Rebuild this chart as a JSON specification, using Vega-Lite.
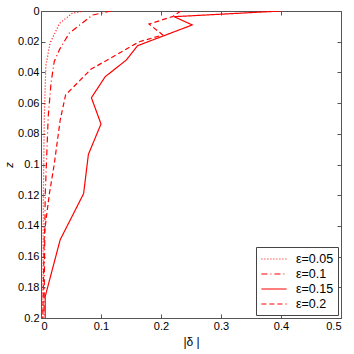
{
  "$schema": "https://vega.github.io/schema/vega-lite/v6.json",
  "width": 300,
  "height": 307,
  "autosize": {"type": "none"},
  "padding": {"left": 41, "top": 11, "right": 13, "bottom": 36},
  "background": "white",
  "config": {
    "font": "Liberation Sans",
    "view": {"stroke": "#555", "strokeWidth": 1},
    "axis": {
      "grid": false,
      "domain": false,
      "tickColor": "#555",
      "tickSize": -4,
      "labelColor": "black",
      "labelFontSize": 11,
      "labelFont": "Liberation Sans",
      "titleFont": "Liberation Sans",
      "titleFontWeight": "normal",
      "titleFontSize": 12
    }
  },
  "data": {
    "values": [
      {"s": "ε=0.05", "x": 0.072, "z": 0},
      {"s": "ε=0.05", "x": 0.052, "z": 0.0015},
      {"s": "ε=0.05", "x": 0.031, "z": 0.008},
      {"s": "ε=0.05", "x": 0.015, "z": 0.021},
      {"s": "ε=0.05", "x": 0.008, "z": 0.036},
      {"s": "ε=0.05", "x": 0.0055, "z": 0.069},
      {"s": "ε=0.05", "x": 0.004, "z": 0.12},
      {"s": "ε=0.05", "x": 0.003, "z": 0.2},
      {"s": "ε=0.1", "x": 0.117, "z": 0},
      {"s": "ε=0.1", "x": 0.086, "z": 0.0026},
      {"s": "ε=0.1", "x": 0.047, "z": 0.0145},
      {"s": "ε=0.1", "x": 0.031, "z": 0.025},
      {"s": "ε=0.1", "x": 0.022, "z": 0.033},
      {"s": "ε=0.1", "x": 0.0167, "z": 0.047},
      {"s": "ε=0.1", "x": 0.012, "z": 0.069},
      {"s": "ε=0.1", "x": 0.007, "z": 0.12},
      {"s": "ε=0.1", "x": 0.005, "z": 0.2},
      {"s": "ε=0.15", "x": 0.4, "z": 0},
      {"s": "ε=0.15", "x": 0.222, "z": 0.0037},
      {"s": "ε=0.15", "x": 0.252, "z": 0.0091},
      {"s": "ε=0.15", "x": 0.161, "z": 0.0226},
      {"s": "ε=0.15", "x": 0.142, "z": 0.032},
      {"s": "ε=0.15", "x": 0.107, "z": 0.0428},
      {"s": "ε=0.15", "x": 0.084, "z": 0.0565},
      {"s": "ε=0.15", "x": 0.1, "z": 0.0736},
      {"s": "ε=0.15", "x": 0.079, "z": 0.0934},
      {"s": "ε=0.15", "x": 0.071, "z": 0.119},
      {"s": "ε=0.15", "x": 0.032, "z": 0.149},
      {"s": "ε=0.15", "x": 0.007, "z": 0.186},
      {"s": "ε=0.15", "x": 0.007, "z": 0.2},
      {"s": "ε=0.2", "x": 0.233, "z": 0},
      {"s": "ε=0.2", "x": 0.219, "z": 0.0037},
      {"s": "ε=0.2", "x": 0.18, "z": 0.0085},
      {"s": "ε=0.2", "x": 0.203, "z": 0.0156},
      {"s": "ε=0.2", "x": 0.164, "z": 0.02},
      {"s": "ε=0.2", "x": 0.083, "z": 0.038},
      {"s": "ε=0.2", "x": 0.041, "z": 0.0547},
      {"s": "ε=0.2", "x": 0.032, "z": 0.071},
      {"s": "ε=0.2", "x": 0.022, "z": 0.1},
      {"s": "ε=0.2", "x": 0.014, "z": 0.119},
      {"s": "ε=0.2", "x": 0.0055, "z": 0.145},
      {"s": "ε=0.2", "x": 0.003, "z": 0.2}
    ]
  },
  "layer": [
    {
      "mark": {"type": "line", "color": "#ff0000", "strokeWidth": 1.2, "clip": true},
      "encoding": {
        "x": {"field": "x", "type": "quantitative", "scale": {"domain": [0, 0.5], "nice": false},
              "axis": {"title": "|δ   |", "format": ".1~f", "values": [0, 0.1, 0.2, 0.3, 0.4, 0.5], "labelPadding": 6, "titlePadding": 5}},
        "y": {"field": "z", "type": "quantitative", "scale": {"domain": [0, 0.2], "reverse": true, "nice": false},
              "axis": {"title": "z", "titleFontStyle": "italic", "titleFontSize": 11, "format": ".2~f", "values": [0, 0.02, 0.04, 0.06, 0.08, 0.1, 0.12, 0.14, 0.16, 0.18, 0.2], "labelPadding": 6, "titlePadding": 3}},
        "strokeDash": {"field": "s", "type": "nominal",
          "scale": {"domain": ["ε=0.05", "ε=0.1", "ε=0.15", "ε=0.2"], "range": [[1, 2], [6, 3, 1, 3], [1, 0], [5, 3]]},
          "legend": {"title": null, "orient": "bottom-right", "offset": 3,
                     "symbolType": "M-1.8,0H1.8", "symbolSize": 196, "symbolOffset": 6, "symbolFillColor": "transparent",
                     "symbolStrokeColor": "#ff0000", "symbolStrokeWidth": 1.2,
                     "labelFontSize": 12.5, "labelFont": "Liberation Sans", "labelOffset": 14,
                     "strokeColor": "#444", "fillColor": "white", "padding": 4, "rowPadding": 0}},
        "order": {"field": "z", "type": "quantitative"}
      }
    },
    {
      "mark": {"type": "point", "opacity": 0},
      "encoding": {
        "x": {"field": "x", "type": "quantitative", "scale": {"domain": [0, 0.5], "nice": false},
              "axis": {"orient": "top", "labels": false, "title": null, "values": [0, 0.1, 0.2, 0.3, 0.4, 0.5]}},
        "y": {"field": "z", "type": "quantitative", "scale": {"domain": [0, 0.2], "reverse": true, "nice": false},
              "axis": {"orient": "right", "labels": false, "title": null, "values": [0, 0.02, 0.04, 0.06, 0.08, 0.1, 0.12, 0.14, 0.16, 0.18, 0.2]}}
      }
    }
  ],
  "resolve": {"axis": {"x": "independent", "y": "independent"}}
}
